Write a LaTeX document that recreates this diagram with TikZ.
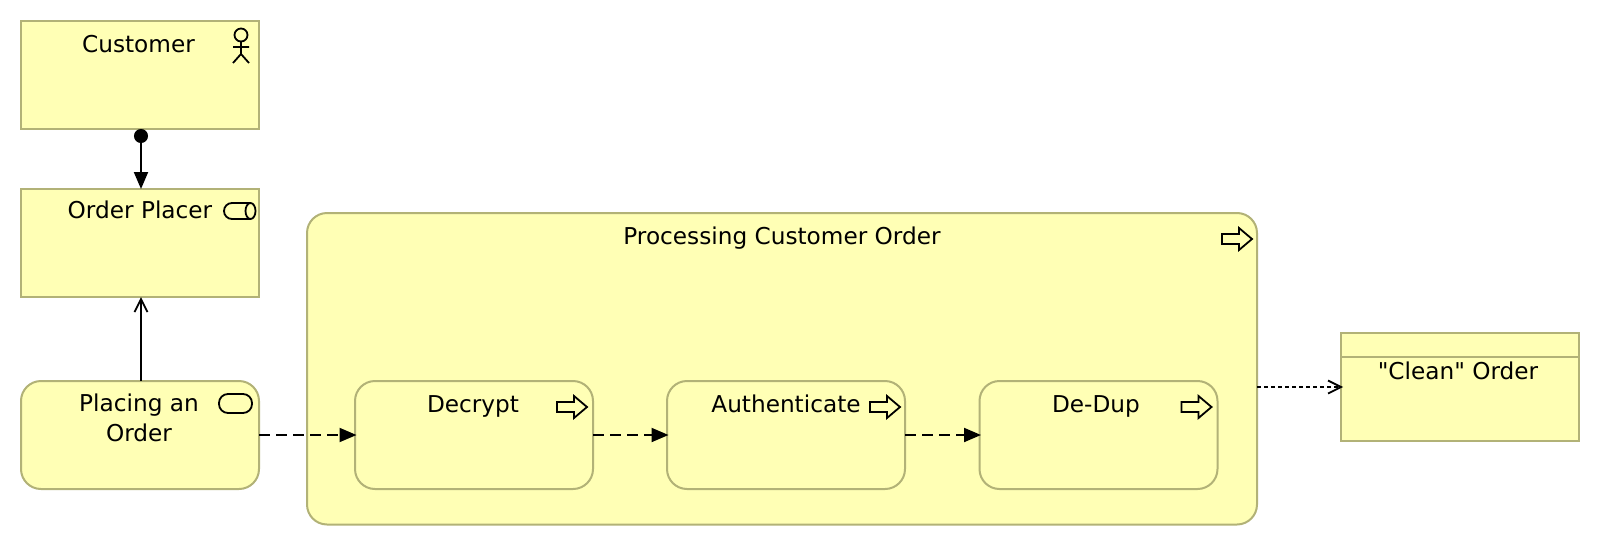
\documentclass[tikz,border=0pt]{standalone}
\usepackage{fontspec}
\setmainfont{DejaVu Sans}
\newfontfamily\plainquotes{DejaVu Sans}
\usetikzlibrary{arrows.meta}
\definecolor{boxfill}{HTML}{FFFFB5}
\definecolor{boxline}{HTML}{B2B277}
\tikzset{
  x=0.5pt,y=-0.5pt,
  elem/.style={draw=boxline,fill=boxfill,line width=1pt,inner sep=0pt,outer sep=0pt,minimum width=119pt,minimum height=54pt},
  soft/.style={elem,rounded corners=10pt},
  txt/.style={anchor=base,inner sep=0pt,font=\fontsize{11.6pt}{15pt}\selectfont,text=black},
  icon/.style={draw=black,line width=0.9pt,fill=none},
  conn/.style={draw=black,line width=1pt},
  dashline/.style={conn,dash pattern=on 5.5pt off 3pt},
  dotline/.style={conn,dash pattern=on 2pt off 1.5pt},
  tiptri/.tip={Triangle[length=8.5pt,width=7pt]},
  tipopen/.tip={Straight Barb[length=6.5pt,width=6.5pt,line width=0.9pt]},
  procarrow/.pic={\draw[icon] (-15,-5) -- (2,-5) -- (2,-11) -- (15,0) -- (2,11) -- (2,5) -- (-15,5) -- cycle;}
}
\begin{document}
\begin{tikzpicture}
\useasboundingbox (0,0) rectangle (1600,546);
% boxes
\node[elem] (customer) at (140,75) {};
\node[elem] (placer) at (140,243) {};
\node[soft] (placing) at (140,435) {};
\node[soft,minimum width=475pt,minimum height=155.75pt] (proc) at (782,368.75) {};
\node[soft] (decrypt) at (474,435) {};
\node[soft] (auth) at (786,435) {};
\node[soft] (dedup) at (1098.5,435) {};
\node[elem] (clean) at (1460,387) {};
\draw[boxline,line width=1pt] ([yshift=-12pt]clean.north west) -- ([yshift=-12pt]clean.north east);
% labels
\node[txt] (tcustomer) at (138.5,52) {Customer};
\node[txt] (tplacer) at (140,218.5) {Order Placer};
\node[txt] (tplacing) at (139,411.5) {Placing an};
\node[txt] (torder) at (139,441.5) {Order};
\node[txt] (tproc) at (782,244) {Processing Customer Order};
\node[txt] (tdecrypt) at (473,412) {Decrypt};
\node[txt] (tauth) at (786,412) {Authenticate};
\node[txt] (tdedup) at (1096,412) {De-Dup};
\node[txt] (tclean) at (1458,379) {\plainquotes "Clean" Order};
% actor icon
\draw[icon] (241,35) circle[radius=6.5];
\draw[icon] (241,41.5) -- (241,54) -- (233,63) (241,54) -- (249,63) (233,47) -- (249,47);
% role icon
\draw[icon] (250.5,203) -- (232,203) arc[start angle=-90,end angle=-270,radius=8,y radius=8] -- (250.5,219);
\draw[icon] (250.5,211) ellipse[x radius=5,y radius=8];
% process icon
\draw[icon,rounded corners=4.5pt] (219,394) rectangle (252,413);
% process arrows
\pic at ([shift={(-20,26)}]proc.north east) {procarrow};
\pic at ([shift={(-21,26)}]decrypt.north east) {procarrow};
\pic at ([shift={(-20,26)}]auth.north east) {procarrow};
\pic at ([shift={(-21,26)}]dedup.north east) {procarrow};
% connectors
\draw[conn,{Circle[length=7pt]}-{tiptri}] ([xshift=0.5pt]customer.south) -- ([xshift=0.5pt]placer.north);
\draw[conn,-{tipopen}] ([xshift=0.5pt]placing.north) -- ([xshift=0.5pt]placer.south);
\draw[dashline,-{tiptri},shorten >=-0.75pt] (placing.east) -- (decrypt.west);
\draw[dashline,-{tiptri},shorten >=-0.75pt] (decrypt.east) -- (auth.west);
\draw[dashline,-{tiptri},shorten >=-0.75pt] (auth.east) -- (dedup.west);
\draw[dotline,-{tipopen},shorten >=-1pt] (proc.east |- clean.west) -- (clean.west);
\end{tikzpicture}
\end{document}
